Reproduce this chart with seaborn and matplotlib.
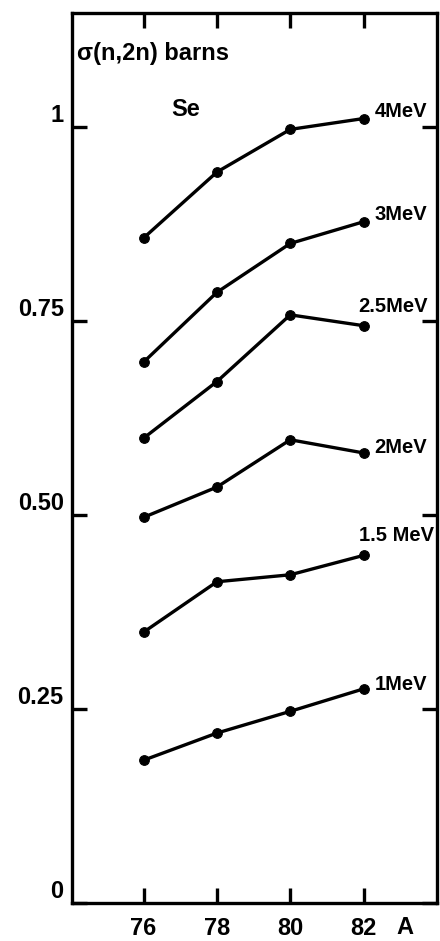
import pandas as pd
import matplotlib
matplotlib.use("Agg")
import matplotlib.pyplot as plt
import seaborn as sns

# mass number A of the Se isotopes
mass_numbers = [76, 78, 80, 82]

# sigma(n,2n) in barns, one list per neutron energy
sigma_4mev = [0.857, 0.942, 0.997, 1.011]
sigma_3mev = [0.697, 0.787, 0.850, 0.878]
sigma_25mev = [0.599, 0.672, 0.758, 0.744]
sigma_2mev = [0.497, 0.536, 0.597, 0.580]
sigma_15mev = [0.349, 0.414, 0.423, 0.448]
sigma_1mev = [0.184, 0.219, 0.247, 0.276]

energy_labels = ["4MeV", "3MeV", "2.5MeV", "2MeV", "1.5 MeV", "1MeV"]
series = [sigma_4mev, sigma_3mev, sigma_25mev, sigma_2mev, sigma_15mev, sigma_1mev]

y_ticks = [0, 0.25, 0.5, 0.75, 1]
y_ticklabels = ["0", "0.25", "0.50", "0.75", "1"]

# long-form table for seaborn
rows = []
for lab, vals in zip(energy_labels, series):
    for a, s in zip(mass_numbers, vals):
        rows.append({"A": a, "sigma": s, "energy": lab})
df = pd.DataFrame(rows)

sns.set_style("ticks")
plt.rcParams["font.family"] = ["Liberation Sans", "DejaVu Sans"]
plt.rcParams["font.weight"] = "bold"
plt.rcParams["text.color"] = "black"
plt.rcParams["xtick.color"] = "black"
plt.rcParams["ytick.color"] = "black"

fig = plt.figure(figsize=(4.4, 9.41), dpi=100)
ax = fig.add_axes([72 / 440, 38 / 941, 365 / 440, 890 / 941])

sns.lineplot(data=df, x="A", y="sigma", hue="energy", hue_order=energy_labels,
             palette=["black"] * len(energy_labels), marker="o", markersize=7,
             markeredgecolor="black", linewidth=2.4, legend=False, ax=ax)

# energy labels next to the last point of each curve (pixel offsets)
label_offsets = [(11, 7), (11, 7), (-5, 19), (11, 5), (-5, 20), (11, 4)]
for lab, vals, off in zip(energy_labels, series, label_offsets):
    ax.annotate(lab, xy=(mass_numbers[-1], vals[-1]), xytext=off,
                textcoords="offset pixels", ha="left", va="center",
                fontsize=14.5, fontweight="bold", color="black")

ax.set_xlim(74.05, 84.0)
ax.set_ylim(0, 1.147)
ax.set_xticks(mass_numbers)
ax.set_xticklabels([str(a) for a in mass_numbers])
ax.set_yticks(y_ticks)
ax.set_yticklabels(y_ticklabels)
ax.set_xlabel("")
ax.set_ylabel("")

for sp in ax.spines.values():
    sp.set_visible(True)
    sp.set_linewidth(2.4)
    sp.set_color("black")

ax.tick_params(axis="both", direction="in", length=11, width=2.4,
               top=True, right=True, colors="black")
ax.tick_params(axis="x", labelsize=17, pad=10)
ax.tick_params(axis="y", labelsize=17, pad=6)
for lbl in ax.get_yticklabels():
    lbl.set_va("bottom")
    lbl.set_fontweight("bold")
for lbl in ax.get_xticklabels():
    lbl.set_fontweight("bold")

ax.text(0.015, 0.955, "σ(n,2n) barns", transform=ax.transAxes,
        fontsize=17, fontweight="bold", va="center", ha="left", color="black")
ax.text(0.272, 0.892, "Se", transform=ax.transAxes,
        fontsize=17, fontweight="bold", va="center", ha="left", color="black")
ax.text(0.912, -0.027, "A", transform=ax.transAxes,
        fontsize=17, fontweight="bold", va="center", ha="center", color="black")

fig.savefig("out.png", dpi=100)
